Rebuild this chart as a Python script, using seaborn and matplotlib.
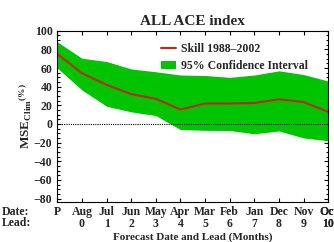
import numpy as np
import pandas as pd
import matplotlib
matplotlib.use("Agg")
import matplotlib.pyplot as plt
import seaborn as sns

# values
months = ["P", "Aug", "Jul", "Jun", "May", "Apr", "Mar", "Feb", "Jan", "Dec", "Nov", "Oct"]
leads = ["", "0", "1", "2", "3", "4", "5", "6", "7", "8", "9", "10"]
skill = [75, 54.5, 42, 32, 27, 15.5, 22, 22, 22.5, 26.5, 23.5, 13]
ci_upper = [88, 70.5, 67, 59, 56, 52.5, 52, 50, 52.5, 57, 53, 46]
ci_lower = [60, 36.5, 19, 13, 9, -6, -6.8, -7, -10.5, -7.5, -15, -18]

df = pd.DataFrame({"pos": np.arange(len(months)), "skill": skill,
                   "upper": ci_upper, "lower": ci_lower})

sns.set_style("ticks")
plt.rcParams["font.family"] = ["Liberation Serif", "DejaVu Serif"]
plt.rcParams["font.weight"] = "bold"
plt.rcParams["mathtext.fontset"] = "custom"
plt.rcParams["mathtext.rm"] = "Liberation Serif:bold"
plt.rcParams["mathtext.it"] = "Liberation Serif:bold"

fig = plt.figure(figsize=(3.34, 2.42), dpi=100)
ax = fig.add_axes([0.1716, 0.164, 0.8114, 0.709])

green = "#00c400"
red = "#c0281c"

ax.fill_between(df["pos"], df["lower"], df["upper"], color=green, lw=0,
                label="95% Confidence Interval")
sns.lineplot(data=df, x="pos", y="skill", ax=ax, color=red, lw=1.5,
             label="Skill 1988\u20132002")
ax.axhline(0, color="black", ls=(0, (1, 1)), lw=0.8)

ax.set_xlim(0, 10.84)
ax.set_ylim(-84, 100)
ax.set_yticks(range(-80, 101, 20))
ax.set_yticks(range(-80, 101, 5), minor=True)
ax.set_xticks(range(len(months)))
ax.set_xticklabels([f"{m}\n{l}" for m, l in zip(months, leads)], linespacing=0.95)
ax.tick_params(axis="both", which="both", direction="in", top=True, right=True,
               labelsize=8.5, width=0.8, color="black")
ax.tick_params(axis="both", which="major", length=3.2)
ax.tick_params(axis="y", which="minor", length=1.8)
ax.tick_params(axis="x", pad=3)
for s in ax.spines.values():
    s.set_linewidth(0.8)
    s.set_color("black")

# last tick label falls past the axes edge
ax.annotate("Oct\n10", xy=(11, 0), xycoords=("data", "axes fraction"),
            xytext=(0, -3), textcoords="offset points", ha="center", va="top",
            fontsize=8.5, fontweight="bold", linespacing=0.95, annotation_clip=False)

ax.set_xlabel("Forecast Date and Lead (Months)", fontsize=8, fontweight="bold", labelpad=2)
ax.set_ylabel(r"MSE$_{\mathrm{Clim}}$$^{(\%)}$", fontsize=9.5, fontweight="bold")
ax.yaxis.set_label_coords(-0.085, 0.5)
ax.set_title("ALL ACE index", fontsize=11, fontweight="bold", pad=4)

fig.text(0.006, 0.122, "Date:", fontsize=8.5, fontweight="bold", va="center")
fig.text(0.006, 0.077, "Lead:", fontsize=8.5, fontweight="bold", va="center")

h, l = ax.get_legend_handles_labels()
order = [l.index("Skill 1988\u20132002"), l.index("95% Confidence Interval")]
ax.legend([h[i] for i in order], [l[i] for i in order], loc="upper left",
          bbox_to_anchor=(0.383, 0.93), frameon=False, fontsize=8.5,
          handlelength=1.3, handletextpad=0.35, labelspacing=0.45,
          borderpad=0, borderaxespad=0)

fig.savefig("out.png", dpi=100)
